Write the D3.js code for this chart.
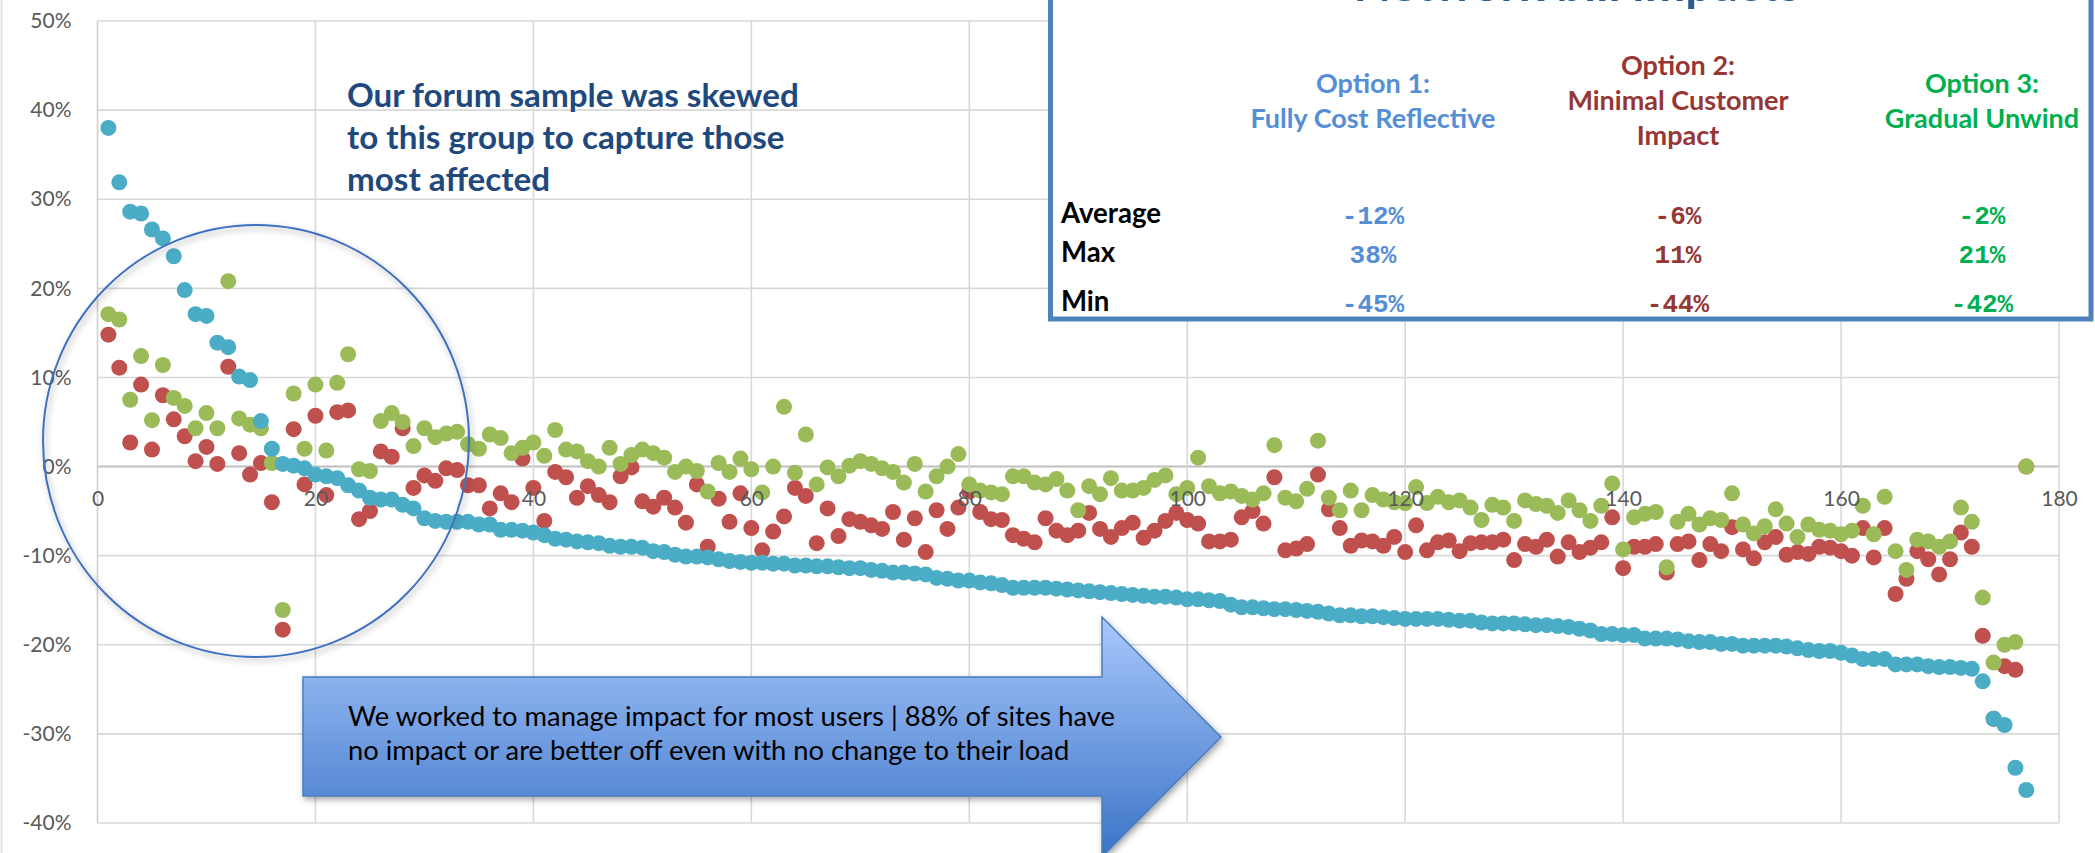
<!DOCTYPE html>
<html>
<head>
<meta charset="utf-8">
<script src="https://cdn.jsdelivr.net/npm/d3@7/dist/d3.min.js"></script>
<style>
  body { margin: 0; background: #fff; overflow: hidden; }
  svg { display: block; font-family: Lato, "Open Sans", sans-serif; }
</style>
</head>
<body>
<svg width="2095" height="853"></svg>
<script>
// bill change per site (%), sites sorted by option 1
const option1 = [
  38.0, 31.9, 28.6, 28.4, 26.6, 25.6, 23.6, 19.8, 17.1, 16.9,
  13.9, 13.4, 10.1, 9.7, 5.1, 2.0, 0.3, 0.1, -0.2, -0.9,
  -1.1, -1.3, -2.1, -2.7, -3.5, -3.7, -3.7, -4.3, -4.7, -5.8,
  -6.1, -6.2, -6.2, -6.2, -6.5, -6.5, -7.1, -7.1, -7.2, -7.4,
  -7.7, -8.1, -8.2, -8.4, -8.5, -8.6, -8.9, -9.0, -9.0, -9.1,
  -9.5, -9.6, -9.9, -10.1, -10.1, -10.2, -10.4, -10.6, -10.7, -10.8,
  -10.8, -10.9, -10.9, -11.1, -11.1, -11.2, -11.2, -11.3, -11.4, -11.4,
  -11.6, -11.7, -11.9, -11.9, -12.0, -12.1, -12.5, -12.6, -12.8, -12.8,
  -13.0, -13.1, -13.3, -13.6, -13.6, -13.6, -13.6, -13.7, -13.8, -13.9,
  -14.0, -14.1, -14.2, -14.3, -14.4, -14.5, -14.6, -14.6, -14.7, -14.9,
  -14.9, -15.0, -15.1, -15.5, -15.8, -15.8, -15.9, -16.0, -16.0, -16.1,
  -16.2, -16.3, -16.5, -16.7, -16.7, -16.8, -16.8, -16.9, -17.0, -17.1,
  -17.1, -17.1, -17.1, -17.2, -17.3, -17.3, -17.5, -17.6, -17.6, -17.6,
  -17.7, -17.8, -17.8, -17.9, -18.0, -18.2, -18.4, -18.8, -18.8, -18.9,
  -18.9, -19.3, -19.3, -19.3, -19.4, -19.6, -19.7, -19.7, -19.9, -19.9,
  -20.1, -20.1, -20.1, -20.1, -20.2, -20.4, -20.6, -20.7, -20.7, -20.9,
  -21.2, -21.6, -21.6, -21.6, -22.2, -22.2, -22.2, -22.4, -22.5, -22.5,
  -22.6, -22.7, -24.1, -28.3, -29.0, -33.8, -36.3
];
const option2 = [
  14.8, 11.1, 2.7, 9.2, 1.9, 8.0, 5.3, 3.4, 0.6, 2.2,
  0.3, 11.2, 1.5, -0.9, 0.4, -4.0, -18.3, 4.2, -2.0, 5.7,
  -3.2, 6.1, 6.3, -5.9, -5.0, 1.7, 1.1, 4.3, -2.4, -1.0,
  -1.6, -0.2, -0.4, -2.1, -2.1, -4.7, -3.0, -4.0, 0.9, -2.4,
  -6.1, -0.6, -1.2, -3.5, -2.2, -3.2, -4.0, -1.1, -0.1, -3.9,
  -4.5, -3.5, -4.6, -6.3, -2.0, -9.0, -3.6, -6.2, -3.0, -6.9,
  -9.4, -7.3, -5.6, -2.4, -3.3, -8.6, -4.7, -7.8, -5.9, -6.2,
  -6.6, -7.0, -5.1, -8.2, -5.8, -9.6, -4.9, -7.0, -4.6, -2.8,
  -5.1, -5.9, -6.0, -7.7, -8.1, -8.5, -5.8, -7.2, -7.7, -7.2,
  -5.2, -7.0, -7.9, -6.9, -6.3, -8.0, -7.2, -6.1, -5.2, -6.0,
  -6.4, -8.4, -8.4, -8.2, -5.7, -5.0, -6.4, -1.2, -9.4, -9.2,
  -8.7, -0.9, -4.8, -6.9, -8.9, -8.3, -8.4, -8.9, -7.9, -9.6,
  -6.6, -9.4, -8.5, -8.3, -9.5, -8.6, -8.5, -8.5, -8.2, -10.5,
  -8.7, -9.0, -8.2, -10.1, -8.5, -9.6, -9.1, -8.5, -5.7, -11.4,
  -9.0, -9.0, -8.7, -11.9, -8.7, -8.4, -10.5, -8.7, -9.5, -6.8,
  -9.3, -10.3, -8.5, -7.9, -9.9, -9.6, -9.8, -9.0, -9.1, -9.5,
  -10.0, -6.9, -10.2, -6.9, -14.3, -12.6, -9.5, -10.4, -12.1, -10.4,
  -7.4, -9.0, -19.0, -28.3, -22.4, -22.8, 0.0
];
const option3 = [
  17.1, 16.5, 7.5, 12.4, 5.2, 11.4, 7.7, 6.8, 4.3, 6.0,
  4.3, 20.8, 5.4, 4.7, 4.3, 0.4, -16.1, 8.2, 2.0, 9.2,
  1.8, 9.4, 12.6, -0.3, -0.5, 5.1, 6.0, 5.0, 2.3, 4.3,
  3.3, 3.7, 3.9, 2.5, 2.0, 3.6, 3.2, 1.5, 2.1, 2.7,
  1.2, 4.1, 1.9, 1.7, 0.6, 0.0, 2.1, 0.3, 1.3, 1.9,
  1.5, 1.0, -0.6, 0.0, -0.5, -2.8, 0.4, -0.6, 0.9, -0.3,
  -2.9, 0.0, 6.7, -0.7, 3.6, -2.0, -0.1, -1.1, 0.1, 0.6,
  0.3, -0.2, -0.6, -1.8, 0.3, -2.8, -1.1, 0.0, 1.4, -2.0,
  -2.7, -2.9, -3.1, -1.1, -1.1, -1.8, -2.0, -1.4, -2.7, -4.9,
  -2.2, -3.1, -1.3, -2.7, -2.7, -2.4, -1.5, -1.0, -3.1, -2.4,
  1.0, -2.2, -3.0, -2.8, -3.3, -3.7, -3.0, 2.4, -3.5, -3.9,
  -2.5, 2.9, -3.5, -4.9, -2.7, -4.9, -3.2, -3.7, -4.0, -4.1,
  -2.3, -4.1, -3.4, -4.0, -3.8, -4.6, -6.0, -4.3, -4.6, -6.1,
  -3.8, -4.2, -4.4, -5.2, -3.8, -4.9, -6.1, -4.4, -1.9, -9.3,
  -5.7, -5.3, -5.1, -11.3, -6.2, -5.3, -6.5, -5.8, -6.0, -3.0,
  -6.5, -7.5, -6.7, -4.8, -6.4, -7.9, -6.5, -7.1, -7.2, -7.6,
  -7.2, -4.4, -7.6, -3.4, -9.5, -11.6, -8.2, -8.4, -9.0, -8.4,
  -4.6, -6.2, -14.7, -22.0, -20.0, -19.7, 0.0
];

const yTicks = [-40, -30, -20, -10, 0, 10, 20, 30, 40, 50];
const xTicks = [0, 20, 40, 60, 80, 100, 120, 140, 160, 180];

const optionHeads = [
  ['Option 1:', 'Fully Cost Reflective'],
  ['Option 2:', 'Minimal Customer', 'Impact'],
  ['Option 3:', 'Gradual Unwind']
];
const statNames = ['Average', 'Max', 'Min'];
const statAverage = ['-12%', '-6%', '-2%'];
const statMax = ['38%', '11%', '21%'];
const statMin = ['-45%', '-44%', '-42%'];

const noteLines = ['Our forum sample was skewed', 'to this group to capture those', 'most affected'];
const arrowLines = ['We worked to manage impact for most users | 88% of sites have',
                    'no impact or are better off even with no change to their load'];

const seriesColors = ['#c0504d', '#9bbb59', '#4bacc6'];   // drawn red, green, blue
const optionColors = ['#558ed5', '#953735', '#00b050'];

const svg = d3.select('svg');

// shrink/grow a text so it is w pixels wide
function fitWidth(sel, w) {
  const cur = sel.node().getComputedTextLength();
  const fs = parseFloat(sel.attr('font-size'));
  const nf = fs * w / cur;
  sel.attr('font-size', nf);
  return nf;
}

//Scales
const x = d3.scaleLinear().domain([0, 180]).range([97.5, 2059]);
const y = d3.scaleLinear().domain([-40, 50]).range([823, 21]);

const defs = svg.append('defs');
const grad = defs.append('linearGradient').attr('id', 'arrowGrad')
  .attr('gradientUnits', 'userSpaceOnUse')
  .attr('x1', 0).attr('x2', 0).attr('y1', 617).attr('y2', 857);
grad.append('stop').attr('offset', 0).attr('stop-color', '#a8c8fc');
grad.append('stop').attr('offset', 1).attr('stop-color', '#3b73c7');
const shadow = defs.append('filter').attr('id', 'shadow')
  .attr('x', -0.1).attr('y', -0.1).attr('width', 1.3).attr('height', 1.4);
shadow.append('feDropShadow').attr('dx', 2).attr('dy', 3).attr('stdDeviation', 3)
  .attr('flood-color', '#000').attr('flood-opacity', 0.35);

// faint slide edge
svg.append('line').attr('x1', 1.5).attr('x2', 1.5).attr('y1', 0).attr('y2', 853)
  .attr('stroke', '#e3e3e3').attr('stroke-width', 2);

//Grid
const grid = svg.append('g');
grid.selectAll('.hg').data(yTicks).join('line')
  .attr('x1', x(0)).attr('x2', x(180))
  .attr('y1', d => y(d)).attr('y2', d => y(d))
  .attr('stroke', d => d === 0 ? '#bfbfbf' : '#d9d9d9')
  .attr('stroke-width', d => d === 0 ? 2 : 1.6);
grid.selectAll('.vg').data(xTicks).join('line')
  .attr('x1', d => x(d)).attr('x2', d => x(d))
  .attr('y1', y(50)).attr('y2', y(-40))
  .attr('stroke', d => d === 0 ? '#cfcfcf' : '#d9d9d9')
  .attr('stroke-width', 1.6);

//Dots
const series = [option2, option3, option1];
series.forEach((vals, si) => {
  svg.append('g').selectAll('circle')
    .data(vals)
    .join('circle')
    .attr('cx', (d, i) => x(i + 1))
    .attr('cy', d => y(d))
    .attr('r', 8)
    .attr('fill', seriesColors[si]);
});

//Axes (labels only, on top of the dots like the original)
const yAxis = d3.axisLeft(y).tickValues(yTicks).tickFormat(d => d + '%').tickSize(0).tickPadding(26);
const xAxis = d3.axisBottom(x).tickValues(xTicks).tickSize(0).tickPadding(25);
const yAxisGroup = svg.append('g').attr('transform', 'translate(' + x(0) + ',0)').call(yAxis);
const xAxisGroup = svg.append('g').attr('transform', 'translate(0,' + y(0) + ')').call(xAxis);
[yAxisGroup, xAxisGroup].forEach(g => {
  g.select('.domain').remove();
  g.selectAll('text').attr('font-family', 'Lato, sans-serif').attr('font-size', 21).attr('fill', '#595959');
});

// circle round the top group
svg.append('ellipse')
  .attr('cx', 256).attr('cy', 441).attr('rx', 213).attr('ry', 216)
  .attr('fill', 'none').attr('stroke', '#3f6fc0').attr('stroke-width', 2)
  .attr('filter', 'url(#shadow)');

// note text
const note = svg.append('g');
const noteText = note.selectAll('text').data(noteLines).join('text')
  .attr('x', 347).attr('y', (d, i) => 107 + i * 42)
  .attr('font-size', 31).attr('font-weight', 'bold').attr('fill', '#1f497d')
  .text(d => d);
const noteSize = fitWidth(d3.select(noteText.nodes()[0]), 452);
noteText.attr('font-size', noteSize);

//Arrow
svg.append('polygon')
  .attr('points', [[303, 677], [1102, 677], [1102, 617], [1221, 737], [1102, 857], [1102, 796], [303, 796]].join(' '))
  .attr('fill', 'url(#arrowGrad)').attr('stroke', '#4a7ebb').attr('stroke-width', 1.5)
  .attr('filter', 'url(#shadow)');
const arrowText = svg.append('g').selectAll('text').data(arrowLines).join('text')
  .attr('x', 348).attr('y', (d, i) => 726 + i * 34)
  .attr('font-size', 25).attr('fill', '#000')
  .text(d => d);
const arrowSize = fitWidth(d3.select(arrowText.nodes()[0]), 767);
arrowText.attr('font-size', arrowSize);

//Table box
const tbl = svg.append('g');
tbl.append('rect').attr('x', 1050.5).attr('y', -20).attr('width', 1040.5).attr('height', 339)
  .attr('fill', '#fff').attr('stroke', '#4f81bd').attr('stroke-width', 5);
// title sits mostly above the window, as in the original slide crop
const title = tbl.append('text').attr('x', 1577).attr('y', 1).attr('text-anchor', 'middle')
  .attr('font-size', 42).attr('font-weight', 'bold').attr('fill', '#2c5d8f')
  .text('Network bill impacts');
fitWidth(title, 447);

const colX = [1373, 1678, 1982];
const headTexts = [];
optionHeads.forEach((lines, ci) => {
  const top = lines.length === 3 ? 67 : 85;
  lines.forEach((ln, li) => {
    const t = tbl.append('text').attr('x', colX[ci]).attr('y', top + li * 35 + 8)
      .attr('text-anchor', 'middle').attr('font-size', 22).attr('font-weight', 'bold')
      .attr('fill', optionColors[ci]).text(ln);
    headTexts.push(t);
  });
});
const headSize = fitWidth(headTexts[1], 245);
headTexts.forEach(t => t.attr('font-size', headSize));

const rowY = [215, 254, 303];
const rowVals = [statAverage, statMax, statMin];
const rowLabels = tbl.selectAll('.rl').data(statNames).join('text')
  .attr('x', 1061).attr('y', (d, i) => rowY[i] + 8)
  .attr('font-size', 23).attr('font-weight', 'bold').attr('fill', '#000')
  .text(d => d);
const rowSize = fitWidth(d3.select(rowLabels.nodes()[0]), 100);
rowLabels.attr('font-size', rowSize);

rowVals.forEach((vals, ri) => {
  vals.forEach((v, ci) => {
    tbl.append('text').attr('x', colX[ci]).attr('y', rowY[ri] + 9)
      .attr('text-anchor', 'middle')
      .style('font-family', '"Liberation Mono", "DejaVu Sans Mono", monospace')
      .attr('font-size', 26).attr('font-weight', 'bold')
      .attr('fill', optionColors[ci]).text(v);
  });
});
</script>
</body>
</html>
